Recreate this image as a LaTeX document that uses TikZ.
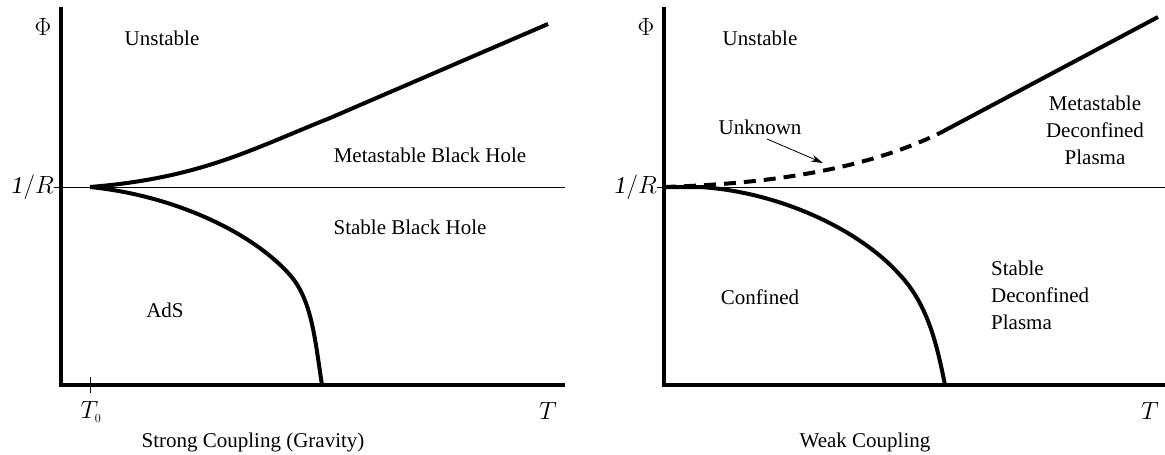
\documentclass[tikz,border=0pt]{standalone}
\usepackage{graphicx}
\usepackage{fontspec}
\setmainfont{Liberation Serif}
\usetikzlibrary{arrows.meta}
\newcommand{\mymathbig}[1]{\scalebox{1.2}{#1}}
\begin{document}
\begin{tikzpicture}[x=1pt,y=-1pt,
  axis/.style={line width=3.5pt},
  curve/.style={line width=4pt},
  thinline/.style={line width=1pt},
  lbl/.style={font=\fontsize{21}{25}\selectfont, inner sep=0pt},
  mathlbl/.style={font=\fontsize{20}{24}\selectfont, inner sep=0pt},
  mlbl/.style={font=\fontsize{21}{25}\selectfont, inner sep=0pt, align=center},
  llbl/.style={font=\fontsize{21}{25}\selectfont, inner sep=0pt, align=left}]
\useasboundingbox (0,0) rectangle (1165,455);
% ---------- left panel ----------
\coordinate (LO) at (61,385);
\coordinate (LT) at (61,7);
\coordinate (LX) at (565,385);
\coordinate (LR) at (61,187);
\coordinate (LRe) at (565,187);
\coordinate (T0) at (90,187);
\draw[thinline] (LR) -- (LRe);
\draw[thinline] (54,187) -- (LR);
\draw[thinline] (90,377) -- (90,393);
\draw[axis] (LT) -- (LO) -- (LX);
\draw[curve] (T0) .. controls (200,178) and (250,150) .. (330,118) -- (548,24);
\draw[curve] (T0) .. controls (170,195) and (250,230) .. (290,275) .. controls (312,300) and (315,340) .. (322,385);
\node[mathlbl] (phiL) at (43,27) {\mymathbig{$\Phi$}};
\node[mathlbl,anchor=east] (rL) at (54,187) {\mymathbig{$\mathit{1}/R$}};
\node[lbl] (unstL) at (162,38) {Unstable};
\node[lbl] (metaL) at (430,155) {Metastable Black Hole};
\node[lbl] (stabL) at (410,227) {Stable Black Hole};
\node[lbl] (ads) at (165,310) {AdS};
\node[mathlbl] (t0) at (91,412) {\mymathbig{$T_{\scriptscriptstyle 0}$}};
\node[mathlbl] (tL) at (548,411) {\mymathbig{$T$}};
\node[lbl] (capL) at (253,442) {Strong Coupling (Gravity)};
% ---------- right panel ----------
\coordinate (RO) at (664,385);
\coordinate (RT) at (664,7);
\coordinate (RX) at (1165,385);
\coordinate (RR) at (664,187);
\coordinate (RRe) at (1165,187);
\coordinate (RB) at (940,133);
\draw[thinline] (RR) -- (RRe);
\draw[thinline] (657,187) -- (RR);
\draw[axis] (RT) -- (RO) -- (RX);
\draw[curve,dash pattern=on 12pt off 8pt] (RR) .. controls (760,184) and (860,172) .. (RB);
\draw[curve] (RB) -- (1158,17);
\draw[curve] (RR) -- (700,187) .. controls (780,192) and (860,230) .. (900,275) .. controls (928,305) and (937,345) .. (945,385);
\node[mathlbl] (phiR) at (646,27) {\mymathbig{$\Phi$}};
\node[mathlbl,anchor=east] (rR) at (657,187) {\mymathbig{$\mathit{1}/R$}};
\node[lbl] (unstR) at (760,38) {Unstable};
\node[lbl] (unk) at (760,127) {Unknown};
\coordinate (unkTip) at (823,163);
\draw[line width=0.8pt,-{Stealth[length=12pt,width=7pt]}] (767,139) -- (unkTip);
\node[mlbl] (metaR) at (1095,130) {Metastable\\[2pt]Deconfined\\[2pt]Plasma};
\node[llbl,anchor=west] (stabR) at (991,295) {Stable\\[2pt]Deconfined\\[2pt]Plasma};
\node[lbl] (conf) at (760,297) {Confined};
\node[mathlbl] (tR) at (1150,411) {\mymathbig{$T$}};
\node[lbl] (capR) at (865,442) {Weak Coupling};
\end{tikzpicture}
\end{document}
